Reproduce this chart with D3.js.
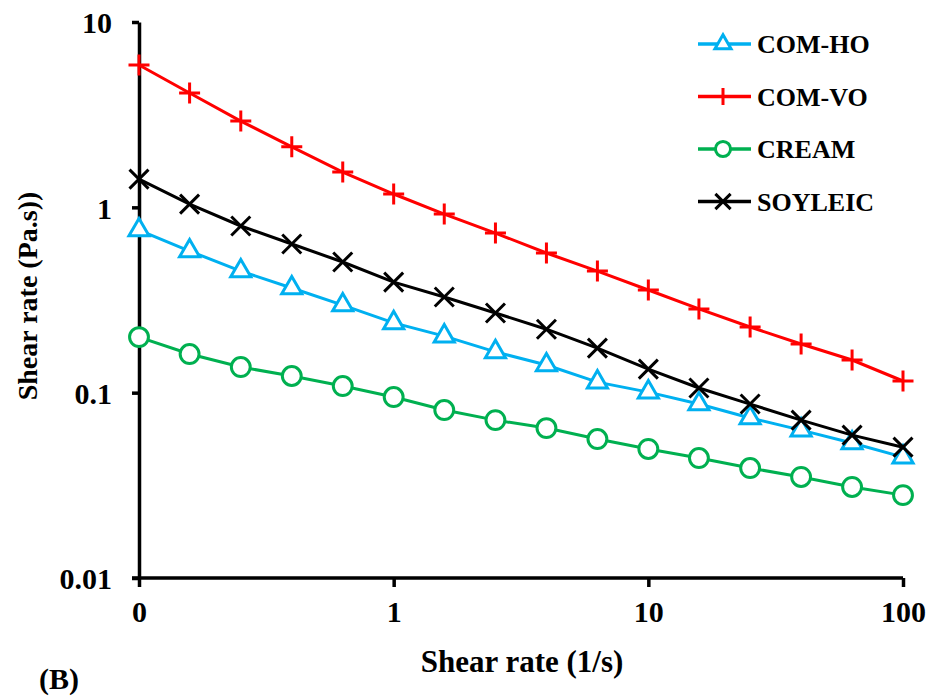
<!DOCTYPE html>
<html>
<head>
<meta charset="utf-8">
<script src="https://cdn.jsdelivr.net/npm/d3@7"></script>
<style>
  body { margin: 0; background: #fff; }
  svg { display: block; font-family: "Liberation Serif", "Times New Roman", serif; font-weight: bold; }
</style>
</head>
<body>
<div id="chart"></div>
<script>
// shear rate steps (1/s), five per decade
var shearRate = [0.1, 0.158, 0.251, 0.398, 0.631, 1, 1.58, 2.51, 3.98, 6.31, 10, 15.8, 25.1, 39.8, 63.1, 100];

// viscosity readings (Pa.s)
var comHO   = [0.754, 0.581, 0.453, 0.367, 0.297, 0.238, 0.202, 0.166, 0.141, 0.114, 0.1007, 0.0868, 0.0730, 0.0628, 0.0535, 0.0449];
var comVO   = [5.86, 4.14, 2.92, 2.12, 1.55, 1.18, 0.92, 0.726, 0.567, 0.453, 0.358, 0.283, 0.226, 0.183, 0.150, 0.1156];
var cream   = [0.1995, 0.1616, 0.1375, 0.123, 0.1086, 0.0947, 0.0806, 0.0711, 0.0644, 0.0562, 0.0497, 0.0444, 0.0392, 0.0351, 0.0310, 0.0280];
var soyleic = [1.42, 1.04, 0.793, 0.634, 0.507, 0.395, 0.328, 0.269, 0.220, 0.174, 0.134, 0.106, 0.0868, 0.0711, 0.0590, 0.0508];

var seriesNames  = ["COM-HO", "COM-VO", "CREAM", "SOYLEIC"];
var seriesColors = ["#00B0F0", "#FF0000", "#00B050", "#000000"];
var seriesMarks  = ["triangle", "plus", "circle", "cross"];

var xTickValues = [0.1, 1, 10, 100];
var xTickLabels = ["0", "1", "10", "100"];
var yTickValues = [0.01, 0.1, 1, 10];
var yTickLabels = ["0.01", "0.1", "1", "10"];

var width = 930, height = 698;
var margin = {left: 139, right: 27, top: 22, bottom: 120};

var svg = d3.select("#chart").append("svg")
    .attr("width", width)
    .attr("height", height);

svg.append("rect").attr("width", width).attr("height", height).attr("fill", "#fff");

var x = d3.scaleLog().domain([0.1, 100]).range([margin.left, width - margin.right]);
var y = d3.scaleLog().domain([0.01, 10]).range([height - margin.bottom, margin.top]);

// axes
var xAxis = svg.append("g")
    .attr("transform", "translate(0," + (height - margin.bottom) + ")")
    .call(d3.axisBottom(x).tickValues(xTickValues)
        .tickFormat(function(d, i) { return xTickLabels[i]; })
        .tickSizeInner(9).tickSizeOuter(0).tickPadding(14));

var yAxis = svg.append("g")
    .attr("transform", "translate(" + margin.left + ",0)")
    .call(d3.axisLeft(y).tickValues(yTickValues)
        .tickFormat(function(d, i) { return yTickLabels[i]; })
        .tickSizeInner(7).tickSizeOuter(0).tickPadding(20));

[xAxis, yAxis].forEach(function(a) {
    a.select(".domain").attr("stroke", "#000").attr("stroke-width", 3.5);
    a.selectAll(".tick line").attr("stroke", "#000").attr("stroke-width", 3.5);
    a.selectAll(".tick text")
        .attr("fill", "#000")
        .style("font-size", "30px")
        .style("font-family", "'Liberation Serif', 'Times New Roman', serif")
        .style("font-weight", "bold");
});
xAxis.selectAll(".tick text").attr("dy", "0.71em");
yAxis.selectAll(".tick text").attr("dy", "0.36em");
// extend x axis line under the left tick
xAxis.select(".domain").attr("d", "M" + (margin.left - 7) + ",0H" + x(100));

// axis titles
svg.append("text")
    .attr("x", (x(0.1) + x(100)) / 2 + 1)
    .attr("y", 672)
    .attr("text-anchor", "middle")
    .style("font-size", "31px")
    .text("Shear rate (1/s)");

svg.append("text")
    .attr("transform", "translate(37," + 296 + ") rotate(-90)")
    .attr("text-anchor", "middle")
    .style("font-size", "28px")
    .text("Shear rate (Pa.s))");

svg.append("text")
    .attr("x", 39)
    .attr("y", 689)
    .style("font-size", "30px")
    .text("(B)");

// marker shapes
function markerPath(kind, k) {
    k = k || 1;
    if (kind === "triangle") return d3.symbol().type(d3.symbolTriangle).size(175 * k * k)();
    if (kind === "circle") return d3.symbol().type(d3.symbolCircle).size(280 * k * k)();
    var h = 10.5 * k;
    if (kind === "plus") return "M" + (-h) + ",0H" + h + "M0," + (-h) + "V" + h;
    var c = 9.5 * k;
    return "M" + (-c) + "," + (-c) + "L" + c + "," + c + "M" + (-c) + "," + c + "L" + c + "," + (-c);
}

var allSeries = [comHO, comVO, cream, soyleic];

var line = d3.line()
    .x(function(d) { return x(d[0]); })
    .y(function(d) { return y(d[1]); });

allSeries.forEach(function(vals, s) {
    var pts = shearRate.map(function(r, i) { return [r, vals[i]]; });
    var g = svg.append("g");
    g.append("path")
        .datum(pts)
        .attr("fill", "none")
        .attr("stroke", seriesColors[s])
        .attr("stroke-width", 3)
        .attr("d", line);
    g.selectAll("path.mk")
        .data(pts)
        .enter().append("path")
        .attr("class", "mk")
        .attr("transform", function(d) { return "translate(" + x(d[0]) + "," + y(d[1]) + ")"; })
        .attr("d", markerPath(seriesMarks[s]))
        .attr("fill", seriesMarks[s] === "triangle" || seriesMarks[s] === "circle" ? "#fff" : "none")
        .attr("stroke", seriesColors[s])
        .attr("stroke-width", 3);
});

// legend
var legend = svg.append("g").attr("transform", "translate(698,44)");
seriesNames.forEach(function(name, i) {
    var row = legend.append("g").attr("transform", "translate(0," + (i * 52.5) + ")");
    row.append("line")
        .attr("x1", 0).attr("x2", 53)
        .attr("y1", 0).attr("y2", 0)
        .attr("stroke", seriesColors[i])
        .attr("stroke-width", 3.5);
    row.append("path")
        .attr("transform", "translate(25,0)")
        .attr("d", markerPath(seriesMarks[i], 0.8))
        .attr("fill", seriesMarks[i] === "triangle" || seriesMarks[i] === "circle" ? "#fff" : "none")
        .attr("stroke", seriesColors[i])
        .attr("stroke-width", 3);
    row.append("text")
        .attr("x", 59)
        .attr("y", 0)
        .attr("dy", "0.35em")
        .style("font-size", "26px")
        .text(name);
});
</script>
</body>
</html>
